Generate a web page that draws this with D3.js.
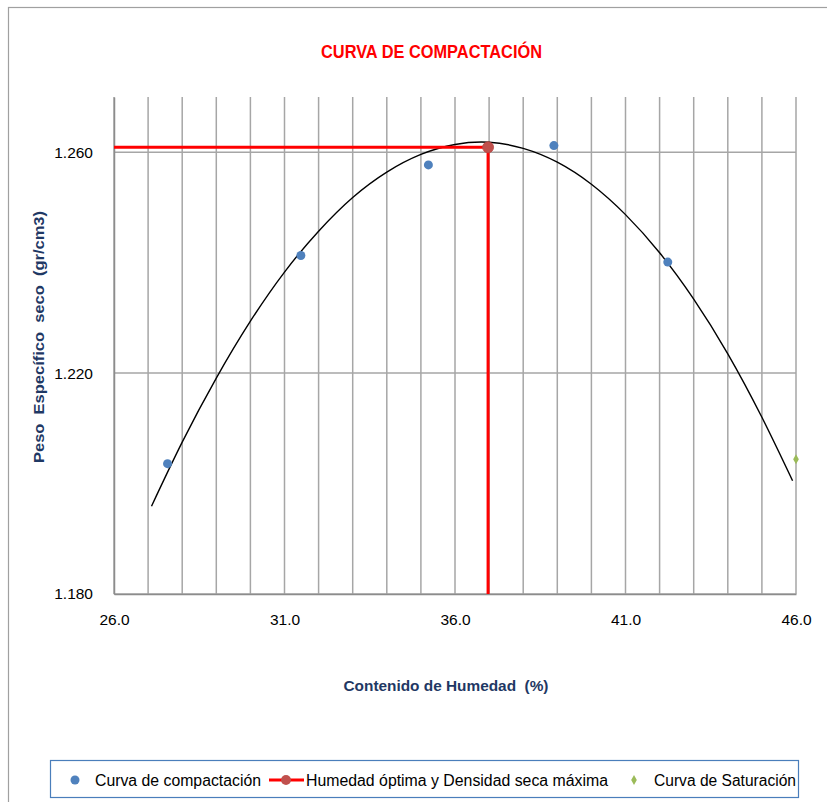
<!DOCTYPE html>
<html>
<head>
<meta charset="utf-8">
<script src="https://cdn.jsdelivr.net/npm/d3@7"></script>
<style>
  html, body { margin: 0; padding: 0; background: #fff; }
  svg { display: block; }
  text { font-family: "Liberation Sans", Arial, sans-serif; }
</style>
</head>
<body>
<div id="chart"></div>
<script>
// ---------- DATA ----------
const title = "CURVA DE COMPACTACIÓN";
const xTitle = "Contenido de Humedad  (%)";
const yTitle = "Peso  Específico  seco  (gr/cm3)";

// Curva de compactación (measured points)
const compHumedad = [27.57, 31.48, 35.22, 38.90, 42.24];
const compDensidad = [1.2036, 1.2413, 1.2577, 1.2612, 1.2401];

// Humedad óptima y Densidad seca máxima
const optHumedad = 36.97;
const maxDensidad = 1.2609;

// Curva de Saturación
const satHumedad = [46.0];
const satDensidad = [1.2044];

// Trend curve (smoothed by eye)
const trendX = [27.1, 28.0, 29.0, 30.0, 31.0, 32.0, 33.0, 34.0, 35.0, 36.0, 37.0, 38.0, 39.0, 40.0, 41.0, 42.0, 43.0, 44.0, 45.0, 45.9];
const trendY = [1.1959, 1.2075, 1.2191, 1.2294, 1.2383, 1.2457, 1.2518, 1.2564, 1.2596, 1.2614, 1.2618, 1.2607, 1.2582, 1.2542, 1.2487, 1.2418, 1.2334, 1.2235, 1.2120, 1.2005];

// Axes
const xDomain = [26, 46];
const yDomain = [1.18, 1.27];
const xTickLabels = [26, 31, 36, 41, 46];
const xGrid = d3.range(26, 47, 1);
const yTickLabels = [1.18, 1.22, 1.26];

const legendLabels = ["Curva de compactación", "Humedad óptima y Densidad seca máxima", "Curva de Saturación"];

// ---------- DRAW ----------
const W = 827, H = 802;
const plot = { left: 114, right: 796, top: 97, bottom: 594 };
const navy = "#1F3864";
const gridCol = "#A6A6A6";

const svg = d3.select("#chart").append("svg").attr("width", W).attr("height", H);
svg.append("rect").attr("width", W).attr("height", H).attr("fill", "#fff");

// outer chart border
svg.append("rect").attr("x", 8.5).attr("y", 7.5).attr("width", W + 10).attr("height", H + 10)
  .attr("fill", "none").attr("stroke", "#A0A0A0").attr("stroke-width", 1.2);

const x = d3.scaleLinear().domain(xDomain).range([plot.left, plot.right]);
const y = d3.scaleLinear().domain(yDomain).range([plot.bottom, plot.top]);

// title
svg.append("text").attr("x", 431.5).attr("y", 58).attr("text-anchor", "middle")
  .attr("fill", "#FF0000").attr("font-weight", "bold").attr("font-size", 18)
  .attr("textLength", 221).attr("lengthAdjust", "spacingAndGlyphs")
  .style("font-family", "'Liberation Sans Narrow', 'Liberation Sans', Arial, sans-serif")
  .text(title);

// vertical gridlines
svg.append("g").selectAll("line").data(xGrid).join("line")
  .attr("x1", d => x(d)).attr("x2", d => x(d))
  .attr("y1", plot.top).attr("y2", plot.bottom)
  .attr("stroke", gridCol).attr("stroke-width", 1.5);

// horizontal gridlines
svg.append("g").selectAll("line").data(yTickLabels).join("line")
  .attr("x1", plot.left).attr("x2", plot.right)
  .attr("y1", d => y(d)).attr("y2", d => y(d))
  .attr("stroke", gridCol).attr("stroke-width", 1.5);

// axes (lines + labels, no tick marks)
const xAxis = d3.axisBottom(x).tickValues(xTickLabels).tickFormat(d3.format(".1f")).tickSize(0).tickPadding(20);
const gx = svg.append("g").attr("transform", `translate(0,${plot.bottom})`).call(xAxis);
gx.select(".domain").attr("stroke", "#8C8C8C").attr("stroke-width", 1.5);
gx.selectAll("text").attr("font-size", 15.5).attr("fill", "#000").style("font-family", "'Liberation Sans', Arial, sans-serif");

const yAxis = d3.axisLeft(y).tickValues(yTickLabels).tickFormat(d3.format(".3f")).tickSize(0).tickPadding(21);
const gy = svg.append("g").attr("transform", `translate(${plot.left},0)`).call(yAxis);
gy.select(".domain").attr("stroke", "#8C8C8C").attr("stroke-width", 1.5);
gy.selectAll("text").attr("font-size", 15.5).attr("fill", "#000").style("font-family", "'Liberation Sans', Arial, sans-serif");

// axis titles
svg.append("text").attr("x", 446).attr("y", 691).attr("text-anchor", "middle")
  .attr("fill", navy).attr("font-weight", "bold").attr("font-size", 15)
  .attr("textLength", 205).attr("lengthAdjust", "spacingAndGlyphs")
  .style("white-space", "pre").text(xTitle);

svg.append("text").attr("transform", "translate(44,337) rotate(-90)").attr("text-anchor", "middle")
  .attr("fill", navy).attr("font-weight", "bold").attr("font-size", 15)
  .attr("textLength", 252).attr("lengthAdjust", "spacingAndGlyphs")
  .style("white-space", "pre").text(yTitle);

// trend curve
const trend = trendX.map((d, i) => [d, trendY[i]]);
svg.append("path").datum(trend)
  .attr("d", d3.line().x(d => x(d[0])).y(d => y(d[1])).curve(d3.curveNatural))
  .attr("fill", "none").attr("stroke", "#000").attr("stroke-width", 1.4);

// compaction points
svg.append("g").selectAll("circle").data(compHumedad.map((d, i) => [d, compDensidad[i]])).join("circle")
  .attr("cx", d => x(d[0])).attr("cy", d => y(d[1])).attr("r", 4.5).attr("fill", "#4F81BD");

// optimum lines
const optPath = [[xDomain[0], maxDensidad], [optHumedad, maxDensidad], [optHumedad, yDomain[0]]];
svg.append("path").datum(optPath)
  .attr("d", d3.line().x(d => x(d[0])).y(d => y(d[1])))
  .attr("fill", "none").attr("stroke", "#FF0000").attr("stroke-width", 3);
svg.append("circle").attr("cx", x(optHumedad)).attr("cy", y(maxDensidad)).attr("r", 5.5)
  .attr("fill", "#C0504D").attr("stroke", "#B84744").attr("stroke-width", 0.8);

// saturation point
const diamond = d3.symbol().type(d3.symbolDiamond).size(28);
svg.append("g").selectAll("path").data(satHumedad.map((d, i) => [d, satDensidad[i]])).join("path")
  .attr("transform", d => `translate(${x(d[0])},${y(d[1])})`).attr("d", diamond).attr("fill", "#9BBB59");

// legend
const lg = svg.append("g");
lg.append("rect").attr("x", 50.5).attr("y", 760.5).attr("width", 748).attr("height", 37)
  .attr("fill", "#fff").attr("stroke", "#4A7EBB").attr("stroke-width", 1.2);
const ly = 780, lty = 786;
lg.append("circle").attr("cx", 75).attr("cy", ly).attr("r", 4.5).attr("fill", "#4F81BD");
lg.append("text").attr("x", 95).attr("y", lty).attr("font-size", 15.8).attr("fill", "#000")
  .attr("textLength", 166).attr("lengthAdjust", "spacingAndGlyphs").text(legendLabels[0]);
lg.append("line").attr("x1", 269).attr("x2", 304).attr("y1", ly).attr("y2", ly).attr("stroke", "#FF0000").attr("stroke-width", 3);
lg.append("circle").attr("cx", 286).attr("cy", ly).attr("r", 5).attr("fill", "#C0504D");
lg.append("text").attr("x", 306).attr("y", lty).attr("font-size", 15.8).attr("fill", "#000")
  .attr("textLength", 302).attr("lengthAdjust", "spacingAndGlyphs").text(legendLabels[1]);
lg.append("path").attr("transform", `translate(634,${ly})`).attr("d", diamond).attr("fill", "#9BBB59");
lg.append("text").attr("x", 654).attr("y", lty).attr("font-size", 15.8).attr("fill", "#000")
  .attr("textLength", 142).attr("lengthAdjust", "spacingAndGlyphs").text(legendLabels[2]);
</script>
</body>
</html>
